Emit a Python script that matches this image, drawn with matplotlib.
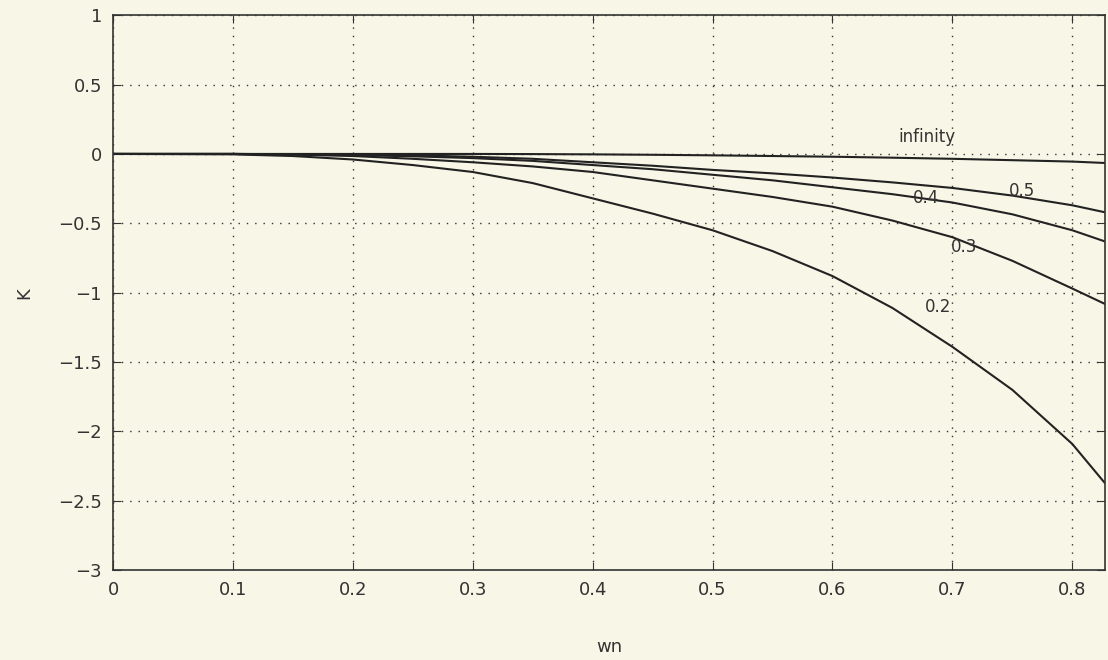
import numpy as np
import matplotlib
matplotlib.use('Agg')
import matplotlib.pyplot as plt

# values (K vs wn for several damping ratios)
wn = [0, 0.1, 0.15, 0.2, 0.25, 0.3, 0.35, 0.4, 0.45, 0.5, 0.55, 0.6, 0.65, 0.7, 0.75, 0.8, 0.827]
k_inf = [0, 0, 0, 0, 0, 0, -0.001, -0.003, -0.006, -0.01, -0.015, -0.02, -0.027, -0.035, -0.045, -0.055, -0.065]
k_05 = [0, 0, -0.002, -0.005, -0.01, -0.02, -0.035, -0.06, -0.085, -0.115, -0.14, -0.17, -0.205, -0.245, -0.30, -0.37, -0.42]
k_04 = [0, 0, -0.003, -0.008, -0.017, -0.03, -0.05, -0.08, -0.11, -0.15, -0.19, -0.24, -0.29, -0.35, -0.435, -0.55, -0.63]
k_03 = [0, 0, -0.005, -0.015, -0.035, -0.06, -0.09, -0.13, -0.19, -0.25, -0.31, -0.38, -0.48, -0.60, -0.77, -0.97, -1.08]
k_02 = [0, -0.003, -0.015, -0.04, -0.08, -0.13, -0.21, -0.32, -0.43, -0.55, -0.70, -0.88, -1.11, -1.39, -1.70, -2.09, -2.37]

curve_labels = ['infinity', '0.5', '0.4', '0.3', '0.2']
label_x = [0.655, 0.758, 0.678, 0.71, 0.688]
label_y = [0.12, -0.27, -0.32, -0.67, -1.1]

xticks = [0, 0.1, 0.2, 0.3, 0.4, 0.5, 0.6, 0.7, 0.8]
yticks = [-3, -2.5, -2, -1.5, -1, -0.5, 0, 0.5, 1]

bg = '#f8f6e6'
ink = '#333333'
plt.rcParams['font.family'] = ['DejaVu Sans']

fig = plt.figure(figsize=(11.08, 6.6), dpi=100, facecolor=bg)
ax = fig.add_axes([0.102, 0.136, 0.895, 0.841], facecolor=bg)

for k in [k_inf, k_05, k_04, k_03, k_02]:
    ax.plot(wn, k, color='#222222', linewidth=1.5)

for txt, lx, ly in zip(curve_labels, label_x, label_y):
    ax.text(lx, ly, txt, fontsize=12, color=ink,
            ha='left' if txt == 'infinity' else 'center', va='center')

ax.set_xlim(0, 0.827)
ax.set_ylim(-3, 1)
ax.set_xticks(xticks)
ax.set_xticklabels([f'{t:g}' for t in xticks])
ax.set_yticks(yticks)
ax.set_yticklabels([f'{t:g}'.replace('-', '\u2212') for t in yticks])
ax.tick_params(direction='in', top=True, right=True, length=6,
               labelsize=13, colors=ink, pad=8)
ax.grid(True, color=ink, linestyle=(0, (1, 5)), linewidth=1.0)
for s in ax.spines.values():
    s.set_color(ink)
    s.set_linewidth(1.2)

ax.set_xlabel('wn', fontsize=13, color=ink, labelpad=28)
ax.set_ylabel('K', fontsize=13, color=ink)
ax.yaxis.set_label_coords(-0.08, 0.5)

fig.savefig('out.png', dpi=100, facecolor=bg)
